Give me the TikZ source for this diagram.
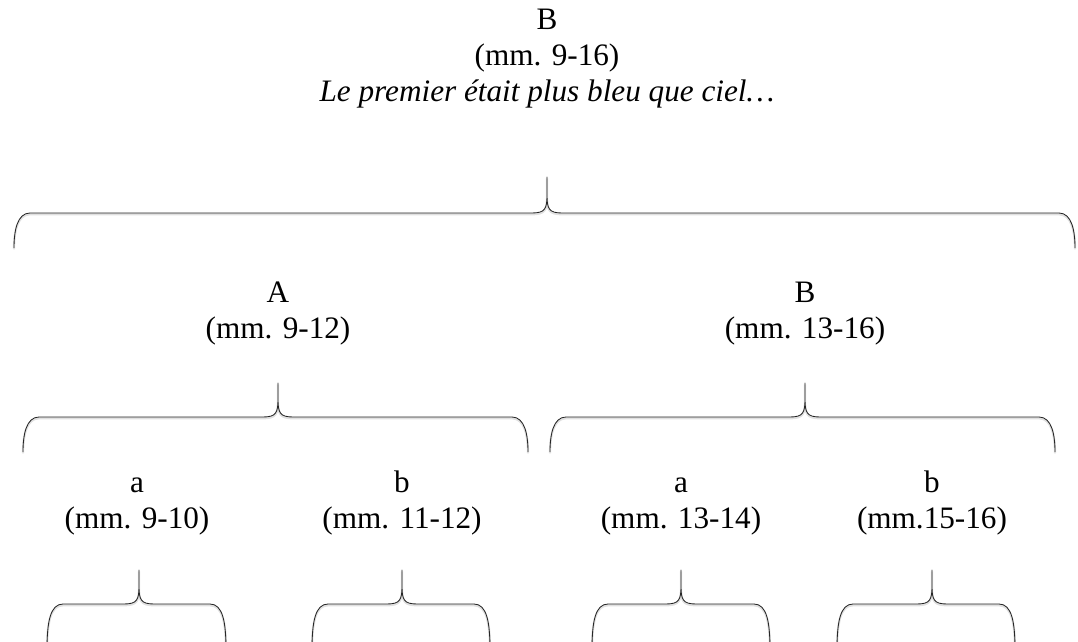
\documentclass[tikz,border=0pt]{standalone}
\usepackage{fontspec}
\setmainfont{Liberation Serif}
\usepackage{tikz}
\usetikzlibrary{positioning}
\tikzset{brace/.style = {black!85, line width = 0.6pt, line join = round,
    preaction = {draw, black!12, line width = 1.6pt, transform canvas = {yshift = -0.9pt}}}}
\tikzset{lbl/.style = {align = center, inner sep = 0, font = \fontsize{22.2}{25.5}\selectfont}}
\newcommand{\lnstrut}{\rule[-7.65pt]{0pt}{25.5pt}}
% left, right, tip x, bar y, tip y, foot y
\newcommand{\upbrace}[6]{%
  \draw [brace] (#1, #6) .. controls (#1, #4 - 0.45) and (#1 + 0.08, #4) .. (#1 + 0.4, #4)
    -- (#3 - 0.38, #4) .. controls (#3 - 0.05, #4) and (#3, #4 + 0.1) .. (#3, #4 + 0.45)
    -- (#3, #5) -- (#3, #4 + 0.45) .. controls (#3, #4 + 0.1) and (#3 + 0.05, #4) .. (#3 + 0.38, #4)
    -- (#2 - 0.4, #4) .. controls (#2 - 0.08, #4) and (#2, #4 - 0.45) .. (#2, #6);
}

\begin{document}
\begin{tikzpicture}
      \useasboundingbox (0, 0) rectangle (26.95, 16.05);
      \clip (0, 0) rectangle (26.95, 16.05);

      \node [lbl] (whole) at (13.675, 14.585) {\lnstrut B\\\lnstrut(mm. 9-16)\\\lnstrut\textit{Le premier était plus bleu que ciel…}};
      \upbrace{0.35}{26.875}{13.675}{10.725}{11.625}{9.85}

      \node [lbl] (bigA) at (6.95, 8.21) {\lnstrut A\\\lnstrut(mm. 9-12)};
      \node [lbl] (bigB) at (20.125, 8.21) {\lnstrut B\\\lnstrut(mm. 13-16)};
      \upbrace{0.575}{13.2}{6.95}{5.625}{6.475}{4.75}
      \upbrace{13.75}{26.375}{20.125}{5.625}{6.475}{4.75}

      \node [lbl] (smallAa) at (3.425, 3.47) {\lnstrut a\\\lnstrut(mm. 9-10)};
      \node [lbl] (smallAb) at (10.05, 3.47) {\lnstrut b\\\lnstrut(mm. 11-12)};
      \node [lbl] (smallBa) at (17.025, 3.47) {\lnstrut a\\\lnstrut(mm. 13-14)};
      \node [lbl] (smallBb) at (23.3, 3.47) {\lnstrut b\\\lnstrut(mm.15-16)};
      \foreach \l/\r/\t in {1.175/5.65/3.475, 7.8/12.25/10.05, 14.8/19.25/17.025, 20.925/25.375/23.3} {
        \upbrace{\l}{\r}{\t}{0.95}{1.8}{-0.2}
      }
    \end{tikzpicture}
\end{document}
